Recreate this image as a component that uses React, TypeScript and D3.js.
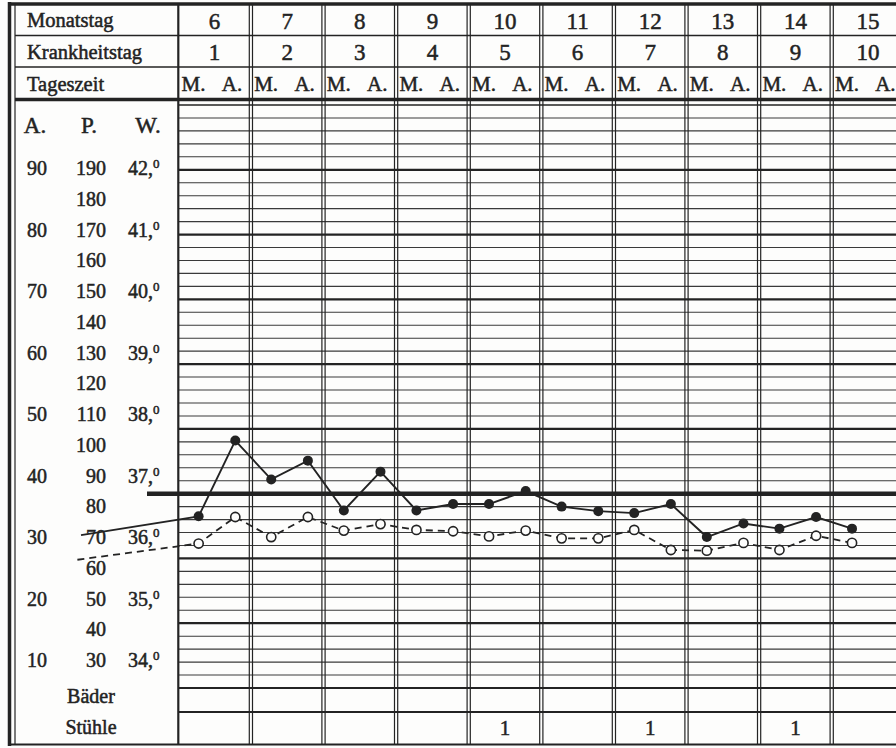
import { useEffect, useRef } from "react";
import * as d3 from "d3";

const W = 896;
const H = 748;

// header rows
const rowLabels = ["Monatstag", "Krankheitstag", "Tageszeit"];
const monthDays = [6, 7, 8, 9, 10, 11, 12, 13, 14, 15];
const illnessDays = [1, 2, 3, 4, 5, 6, 7, 8, 9, 10];
const dayTimes = ["M.", "A."];

// scale columns on the left (A. = Atmung, P. = Puls, W. = Wärme)
const atemTicks = [90, 80, 70, 60, 50, 40, 30, 20, 10];
const pulsTicks = [190, 180, 170, 160, 150, 140, 130, 120, 110, 100, 90, 80, 70, 60, 50, 40, 30];
const waermeTicks = [42, 41, 40, 39, 38, 37, 36, 35, 34];
const bottomRows = ["Bäder", "Stühle"];

// readings, morning / evening, from day 6 M to day 15 M
const temperature = [
  36.65, 37.82, 37.22, 37.51, 36.74, 37.34, 36.74, 36.84, 36.84, 37.04,
  36.8, 36.73, 36.7, 36.84, 36.33, 36.54, 36.46, 36.64, 36.46,
];
const pulse = [
  74.6, 82.8, 76.6, 82.8, 78.6, 80.6, 78.8, 78.4, 76.8, 78.6,
  76.2, 76.2, 78.8, 72.6, 72.4, 74.8, 72.6, 77, 74.8,
];
// values carried in from before the sheet starts
const leadInTime = 4.66;
const leadInTemperature = 36.36;
const leadInPulse = 69.6;

// stools per day
const stuehle = [0, 0, 0, 0, 1, 0, 1, 0, 1, 0];

const INK = "#232323";
const FONT = "'Liberation Serif', 'DejaVu Serif', serif";

export default function App() {
  const svgRef = useRef<SVGSVGElement>(null);

  useEffect(() => {
    if (!svgRef.current) return;
    const svg = d3.select(svgRef.current);
    svg.selectAll("*").remove();

    const gridLeft = 178.3;
    const x = d3.scaleLinear().domain([6, 16]).range([gridLeft, gridLeft + 726]);
    const y = d3.scaleLinear().domain([34, 43]).range([688, 105]);
    const yPulse = d3.scaleLinear().domain([30, 210]).range([688, 105]);
    const labelY = d3.scaleLinear().domain([190, 30]).range([168, 660]);
    const slotOffset = [0.28, 0.785];
    const slotTime = (i: number) => monthDays[0] + Math.floor(i / 2) + slotOffset[i % 2];

    svg.append("rect").attr("width", W).attr("height", H).attr("fill", "#fdfdfc");

    const lines = svg.append("g").attr("stroke", INK).attr("fill", "none");

    // horizontal grid in the chart body
    const steps = d3.range(34, 43, 0.2).map((v) => Math.round(v * 10) / 10);
    steps.forEach((v) => {
      const major = Math.abs(v - Math.round(v)) < 1e-6;
      const bold = v === 37;
      lines
        .append("line")
        .attr("x1", bold ? 147 : gridLeft)
        .attr("x2", W)
        .attr("y1", y(v))
        .attr("y2", y(v))
        .attr("stroke", major ? INK : "#3a3a3a")
        .attr("stroke-width", bold ? 4.5 : major ? 2.2 : 1.1);
    });

    // header and bottom rules
    const rule = (yy: number, w: number, x1 = 9) =>
      lines.append("line").attr("x1", x1).attr("x2", W).attr("y1", yy).attr("y2", yy).attr("stroke-width", w);
    rule(4, 3.5);
    rule(35.5, 1.3, 15);
    rule(67, 1.3, 15);
    rule(99.5, 3.5, 15);
    rule(105, 1.5, gridLeft);
    rule(712, 2.2, gridLeft);
    rule(744.5, 2);

    // left border (double) and label column border
    lines.append("line").attr("x1", 9.5).attr("x2", 9.5).attr("y1", 2).attr("y2", 746).attr("stroke-width", 3.5);
    lines.append("line").attr("x1", 15).attr("x2", 15).attr("y1", 4).attr("y2", 745).attr("stroke-width", 1.2);
    lines.append("line").attr("x1", gridLeft).attr("x2", gridLeft).attr("y1", 4).attr("y2", 745).attr("stroke-width", 2.2);

    // day separators (double lines)
    monthDays.slice(1).concat([16]).forEach((d) => {
      [-1.6, 1.6].forEach((o) => {
        lines
          .append("line")
          .attr("x1", x(d) + o)
          .attr("x2", x(d) + o)
          .attr("y1", 4)
          .attr("y2", 745)
          .attr("stroke-width", 1.2);
      });
    });

    const text = svg
      .append("g")
      .attr("font-family", FONT)
      .attr("fill", INK)
      .attr("stroke", INK)
      .attr("stroke-width", 0.5)
      .attr("dominant-baseline", "central");

    // header labels
    const rowY = [20, 51.5, 84];
    rowLabels.forEach((l, i) => {
      text.append("text").attr("x", 27).attr("y", rowY[i]).attr("font-size", 20.5).text(l);
    });
    const labelOffset = [0.21, 0.74];
    monthDays.forEach((d, i) => {
      const cx = x(d + 0.5);
      text.append("text").attr("x", cx).attr("y", rowY[0] + 1).attr("text-anchor", "middle").attr("font-size", 23).text(d);
      text
        .append("text")
        .attr("x", cx)
        .attr("y", rowY[1] + 1)
        .attr("text-anchor", "middle")
        .attr("font-size", 23)
        .text(illnessDays[i]);
      dayTimes.forEach((t, k) => {
        text
          .append("text")
          .attr("x", x(d + labelOffset[k]))
          .attr("y", rowY[2])
          .attr("text-anchor", "middle")
          .attr("font-size", 21)
          .text(t);
      });
    });

    // scale columns
    [["A.", 35], ["P.", 89], ["W.", 148]].forEach(([l, cx]) => {
      text.append("text").attr("x", cx).attr("y", 125).attr("text-anchor", "middle").attr("font-size", 23).text(l as string);
    });
    atemTicks.forEach((a) => {
      text.append("text").attr("x", 37).attr("y", labelY(a * 2 + 10)).attr("text-anchor", "middle").attr("font-size", 20).text(a);
    });
    pulsTicks.forEach((p) => {
      text.append("text").attr("x", 106).attr("y", labelY(p)).attr("text-anchor", "end").attr("font-size", 20).text(p);
    });
    waermeTicks.forEach((w) => {
      const t = text.append("text").attr("x", 128).attr("y", labelY(30 + (w - 34) * 20)).attr("font-size", 20);
      t.append("tspan").text(`${w},`);
      t.append("tspan").attr("font-size", 13).attr("dy", -5).text("0");
    });
    bottomRows.forEach((l, i) => {
      text.append("text").attr("x", 91).attr("y", [696, 727][i]).attr("text-anchor", "middle").attr("font-size", 20).text(l);
    });
    stuehle.forEach((n, i) => {
      if (!n) return;
      text
        .append("text")
        .attr("x", x(monthDays[i] + 0.5))
        .attr("y", 728)
        .attr("text-anchor", "middle")
        .attr("font-size", 21)
        .text(n);
    });

    // curves
    const tempPts: [number, number][] = [[x(leadInTime), y(leadInTemperature)]].concat(
      temperature.map((v, i) => [x(slotTime(i)), y(v)] as [number, number]),
    ) as [number, number][];
    const pulsePts: [number, number][] = [[x(leadInTime - 0.05), yPulse(leadInPulse)]].concat(
      pulse.map((v, i) => [x(slotTime(i)), yPulse(v)] as [number, number]),
    ) as [number, number][];
    const line = d3.line();

    svg
      .append("path")
      .attr("d", line(pulsePts))
      .attr("fill", "none")
      .attr("stroke", INK)
      .attr("stroke-width", 1.8)
      .attr("stroke-dasharray", "7,5");
    svg.append("path").attr("d", line(tempPts)).attr("fill", "none").attr("stroke", INK).attr("stroke-width", 1.9);

    svg
      .append("g")
      .selectAll("circle")
      .data(pulsePts.slice(1))
      .join("circle")
      .attr("cx", (d) => d[0])
      .attr("cy", (d) => d[1])
      .attr("r", 4.6)
      .attr("fill", "#fdfdfc")
      .attr("stroke", INK)
      .attr("stroke-width", 1.6);
    svg
      .append("g")
      .selectAll("circle")
      .data(tempPts.slice(1))
      .join("circle")
      .attr("cx", (d) => d[0])
      .attr("cy", (d) => d[1])
      .attr("r", 5)
      .attr("fill", INK);
  }, []);

  return (
    <svg
      ref={svgRef}
      width={W}
      height={H}
      style={{ position: "absolute", left: 0, top: 0, display: "block" }}
      role="img"
      aria-label="Fieberkurve"
    />
  );
}
